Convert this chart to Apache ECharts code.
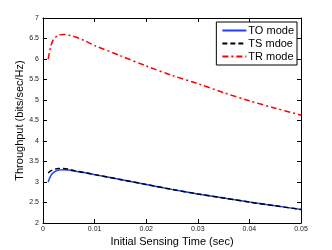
<!DOCTYPE html>
<html><head><meta charset="utf-8">
<script src="https://cdn.jsdelivr.net/npm/echarts@6/dist/echarts.min.js"></script>
<style>html,body{margin:0;padding:0;background:#fff}#c{width:332px;height:250px}</style>
</head><body><div id="c"></div>
<script>
var xs = [0.001,0.0015,0.002,0.003,0.004,0.005,0.006,0.008,0.01,0.015,0.02,0.025,0.03,0.035,0.04,0.045,0.05];
var toMode = [3.0,3.15,3.23,3.29,3.3,3.29,3.27,3.23,3.18,3.06,2.94,2.82,2.71,2.61,2.51,2.42,2.33];
var tsMode = [3.22,3.27,3.3,3.33,3.33,3.31,3.28,3.23,3.18,3.06,2.94,2.82,2.71,2.61,2.51,2.42,2.33];
var trMode = [6.0,6.3,6.47,6.58,6.6,6.58,6.55,6.45,6.33,6.08,5.83,5.6,5.4,5.18,4.98,4.8,4.63];
var xTicks = [0,0.01,0.02,0.03,0.04,0.05];
var names = ['TO mode','TS mdoe','TR mode'];

function pairs(v){return xs.map(function(x,i){return [x,v[i]];});}
var font = 'Liberation Sans, Arial, sans-serif';
var chart = echarts.init(document.getElementById('c'));
var axBase = {
  axisLine:{show:true,onZero:false,lineStyle:{color:'#000',width:1}},
  axisTick:{inside:true,length:4,lineStyle:{color:'#000'}},
  splitLine:{show:false}
};
chart.setOption({
  animation:false,
  grid:{left:43,right:31,top:18,bottom:27,containLabel:false,outerBoundsMode:'none'},
  legend:{
    right:35,top:22,orient:'vertical',
    backgroundColor:'#fff',borderColor:'#000',borderWidth:1,borderRadius:0,
    padding:[3,3,3,5],itemGap:2,itemWidth:24,itemHeight:11,
    itemStyle:{opacity:0},
    textStyle:{fontFamily:font,fontSize:11,color:'#000',padding:[0,0,0,-3]},
    data:names
  },
  xAxis:[
    Object.assign({type:'value',min:0,max:0.05,interval:0.01,
      name:'Initial Sensing Time (sec)',nameLocation:'middle',nameGap:13,nameMoveOverlap:false,
      nameTextStyle:{fontFamily:font,fontSize:11,color:'#000'},
      axisLabel:{fontFamily:font,fontSize:7,color:'#222',margin:3,
        formatter:function(v){return String(+v.toFixed(2));}}},axBase),
    Object.assign({type:'value',position:'top',min:0,max:0.05,interval:0.01,axisLabel:{show:false}},axBase)
  ],
  yAxis:[
    Object.assign({type:'value',min:2,max:7,interval:0.5,
      name:'Throughput (bits/sec/Hz)',nameLocation:'middle',nameGap:18,nameMoveOverlap:false,
      nameTextStyle:{fontFamily:font,fontSize:11,color:'#000'},
      axisLabel:{fontFamily:font,fontSize:7,color:'#222',margin:4}},axBase),
    Object.assign({type:'value',position:'right',min:2,max:7,interval:0.5,axisLabel:{show:false}},axBase)
  ],
  series:[
    {name:names[0],type:'line',data:pairs(toMode),showSymbol:false,symbol:'none',smooth:0.3,
     lineStyle:{color:'#1f3fff',width:1.5},itemStyle:{color:'#1f3fff'},z:2},
    {name:names[1],type:'line',data:pairs(tsMode),showSymbol:false,symbol:'none',smooth:0.3,
     lineStyle:{color:'#000',width:1.5,type:[5,3]},itemStyle:{color:'#000'},z:3},
    {name:names[2],type:'line',data:pairs(trMode),showSymbol:false,symbol:'none',smooth:0.3,
     lineStyle:{color:'#ff0000',width:1.5,type:[6,3,2,3]},itemStyle:{color:'#ff0000'},z:3}
  ]
});
</script></body></html>
